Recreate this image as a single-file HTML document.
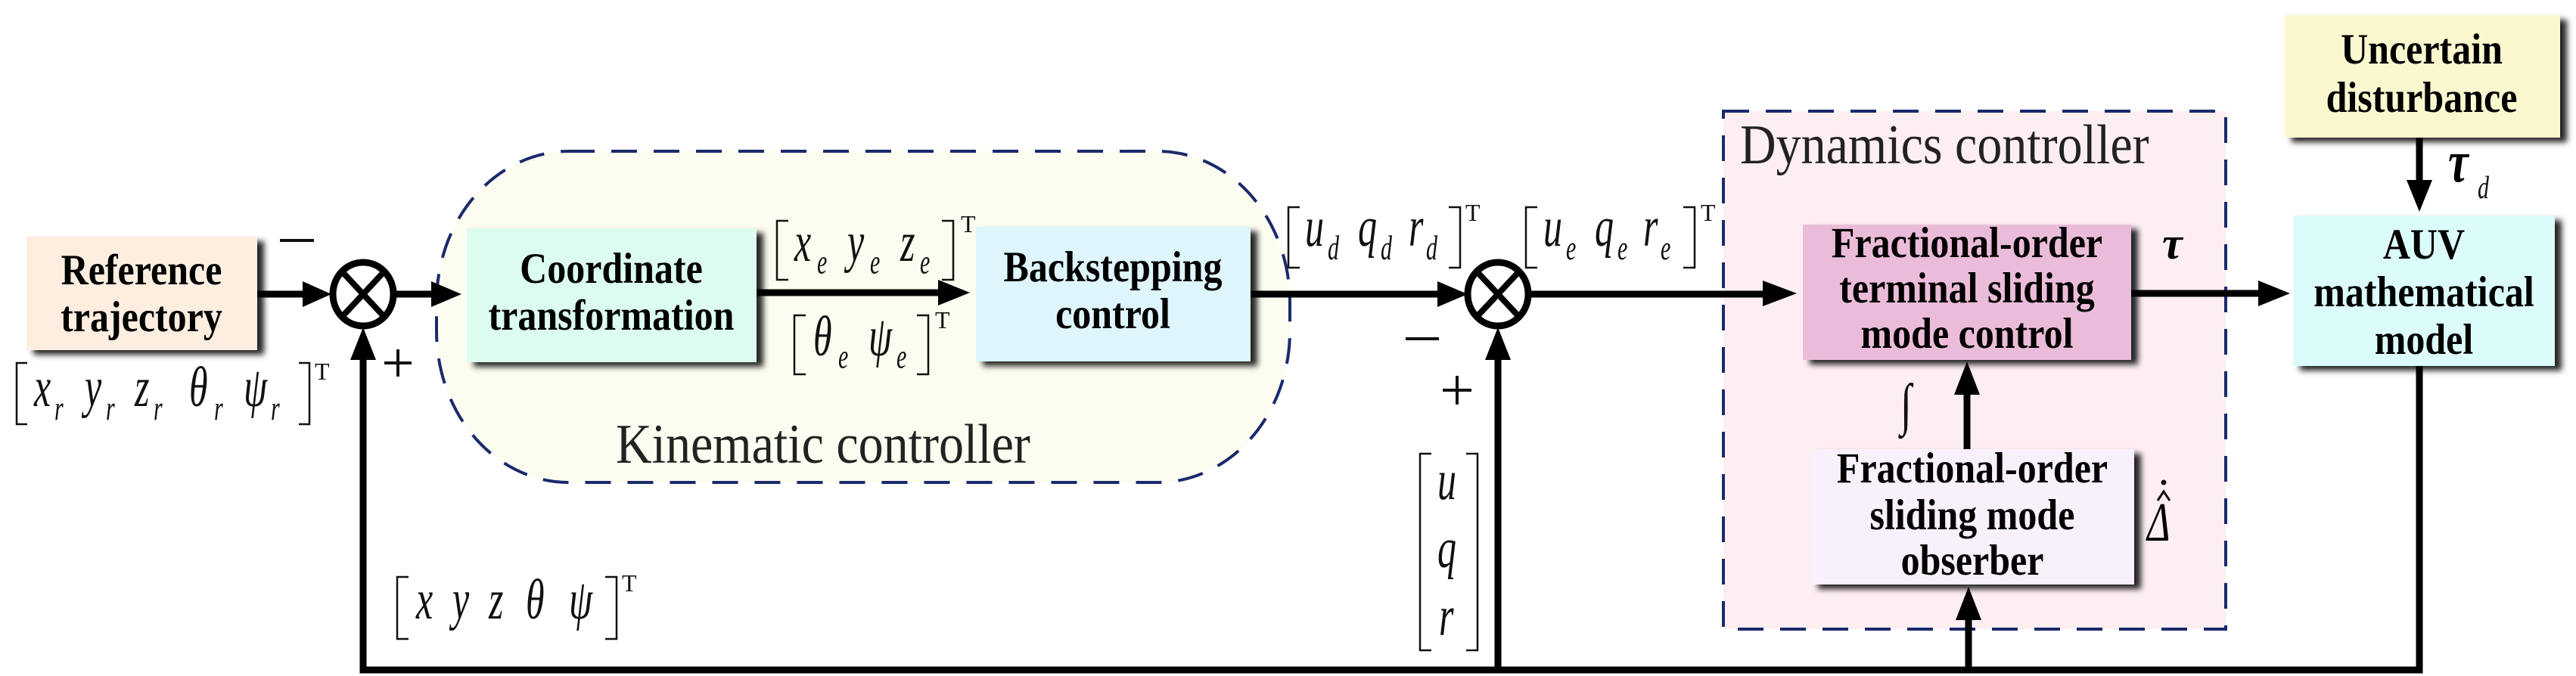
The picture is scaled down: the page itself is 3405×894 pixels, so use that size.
<!DOCTYPE html>
<html><head><meta charset="utf-8"><style>
html,body{margin:0;padding:0;background:#fff;}
svg{display:block;}
text{font-family:"Liberation Serif",serif;}
.b{font-weight:bold;font-size:50px;text-anchor:middle;fill:#000;}
.i{font-style:italic;font-size:50px;fill:#111;}
.s{font-style:italic;font-size:30px;fill:#111;}
.t{font-size:32px;fill:#111;}
.br{fill:none;stroke:#111;stroke-width:2.5;}
.ln{stroke:#000;stroke-width:9;fill:none;}
</style></head><body>
<svg width="3405" height="894" viewBox="0 0 3405 894" xmlns="http://www.w3.org/2000/svg">
<defs>
<filter id="sh" x="-10%" y="-10%" width="130%" height="130%">
<feDropShadow dx="9" dy="6" stdDeviation="4" flood-color="#000" flood-opacity="0.85"/>
</filter>
</defs>

<rect x="577" y="200" width="1128" height="438" rx="175" ry="200" fill="#fdfcf0" stroke="#1a2a6c" stroke-width="4" stroke-dasharray="34,22"/>
<g transform="translate(0,612) scale(1,1.12) translate(0,-612)"><text x="814" y="612" style="font-size:66px;fill:#222;">Kinematic controller</text></g>

<rect x="2278" y="147" width="664" height="685" fill="#fdeef2" stroke="#1a2a6c" stroke-width="4" stroke-dasharray="34,22"/>
<g transform="translate(0,216) scale(1,1.12) translate(0,-216)"><text x="2300" y="216" style="font-size:66px;fill:#222;">Dynamics controller</text></g>

<rect x="35" y="313" width="305" height="150" fill="#fdeee0" filter="url(#sh)"/>
<rect x="617" y="302" width="383" height="177" fill="#dcfcef" filter="url(#sh)"/>
<rect x="1290" y="300" width="363" height="178" fill="#ddf5fb" filter="url(#sh)"/>
<rect x="2383" y="297" width="434" height="179" fill="#ebbcd9" filter="url(#sh)"/>
<rect x="2394" y="594" width="427" height="179" fill="#f8f0fa" filter="url(#sh)"/>
<rect x="3020" y="20" width="364" height="162" fill="#fbf8d0" filter="url(#sh)"/>
<rect x="3031" y="285" width="346" height="199" fill="#dcfcfc" filter="url(#sh)"/>

<g transform="translate(0,376) scale(1,1.15) translate(0,-376)"><text class="b" x="187" y="376">Reference</text></g>
<g transform="translate(0,438) scale(1,1.15) translate(0,-438)"><text class="b" x="187" y="438">trajectory</text></g>
<g transform="translate(0,374) scale(1,1.15) translate(0,-374)"><text class="b" x="808" y="374">Coordinate</text></g>
<g transform="translate(0,436) scale(1,1.15) translate(0,-436)"><text class="b" x="808" y="436">transformation</text></g>
<g transform="translate(0,372) scale(1,1.15) translate(0,-372)"><text class="b" x="1471" y="372">Backstepping</text></g>
<g transform="translate(0,434) scale(1,1.15) translate(0,-434)"><text class="b" x="1471" y="434">control</text></g>
<g transform="translate(0,340) scale(1,1.15) translate(0,-340)"><text class="b" x="2600" y="340">Fractional-order</text></g>
<g transform="translate(0,400) scale(1,1.15) translate(0,-400)"><text class="b" x="2600" y="400">terminal sliding</text></g>
<g transform="translate(0,460) scale(1,1.15) translate(0,-460)"><text class="b" x="2600" y="460">mode control</text></g>
<g transform="translate(0,638) scale(1,1.15) translate(0,-638)"><text class="b" x="2607" y="638">Fractional-order</text></g>
<g transform="translate(0,700) scale(1,1.15) translate(0,-700)"><text class="b" x="2607" y="700">sliding mode</text></g>
<g transform="translate(0,760) scale(1,1.15) translate(0,-760)"><text class="b" x="2607" y="760">obserber</text></g>
<g transform="translate(0,84) scale(1,1.15) translate(0,-84)"><text class="b" x="3201" y="84">Uncertain</text></g>
<g transform="translate(0,148) scale(1,1.15) translate(0,-148)"><text class="b" x="3201" y="148">disturbance</text></g>
<g transform="translate(0,342) scale(1,1.15) translate(0,-342)"><text class="b" x="3204" y="342">AUV</text></g>
<g transform="translate(0,405) scale(1,1.15) translate(0,-405)"><text class="b" x="3204" y="405">mathematical</text></g>
<g transform="translate(0,468) scale(1,1.15) translate(0,-468)"><text class="b" x="3204" y="468">model</text></g>

<g stroke="#000" stroke-width="9" fill="#fff">
<ellipse cx="480" cy="389" rx="40" ry="42"/>
<ellipse cx="1980" cy="389" rx="40" ry="42"/>
</g>
<g stroke="#000" stroke-width="8">
<line x1="452" y1="359" x2="508" y2="419"/><line x1="508" y1="359" x2="452" y2="419"/>
<line x1="1952" y1="359" x2="2008" y2="419"/><line x1="2008" y1="359" x2="1952" y2="419"/>
</g>

<g class="ln">
<line x1="340" y1="389" x2="410" y2="389"/>
<line x1="520" y1="389" x2="580" y2="389"/>
<line x1="1000" y1="387" x2="1240" y2="387"/>
<line x1="1653" y1="389" x2="1910" y2="389"/>
<line x1="2020" y1="389" x2="2330" y2="389"/>
<line x1="2817" y1="388" x2="2985" y2="388"/>
<line x1="3198" y1="182" x2="3198" y2="240"/>
<polyline points="3198,484 3198,886 480,886 480,470"/>
<line x1="1980" y1="886" x2="1980" y2="470"/>
<line x1="2602" y1="886" x2="2602" y2="820"/>
<line x1="2600" y1="594" x2="2600" y2="520"/>
</g>
<g fill="#000">
<polygon points="400,372 438,389 400,406"/>
<polygon points="570,372 610,389 570,406"/>
<polygon points="1240,370 1282,387 1240,404"/>
<polygon points="1900,372 1940,389 1900,406"/>
<polygon points="2330,371 2375,388 2330,405"/>
<polygon points="2985,371 3027,388 2985,405"/>
<polygon points="3181,238 3198,280 3215,238"/>
<polygon points="463,476 480,433 497,476"/>
<polygon points="1963,476 1980,433 1997,476"/>
<polygon points="2585,820 2602,776 2619,820"/>
<polygon points="2583,522 2600,478 2617,522"/>
</g>

<g stroke="#111" stroke-width="4">
<line x1="370" y1="318" x2="415" y2="318"/>
<line x1="508" y1="480" x2="544" y2="480"/><line x1="526" y1="462" x2="526" y2="498"/>
<line x1="1858" y1="448" x2="1902" y2="448"/>
<line x1="1907" y1="516" x2="1945" y2="516"/><line x1="1926" y1="497" x2="1926" y2="535"/>
</g>

<!-- [xr yr zr θr ψr]^T -->
<path class="br" d="M36,480 H22 V561 H36 M395,480 H409 V561 H395"/>
<g transform="translate(0,537) scale(1,1.5) translate(0,-537)">
<text class="i" x="45" y="537">x</text><text class="s" x="72" y="549">r</text>
<text class="i" x="112" y="537">y</text><text class="s" x="140" y="549">r</text>
<text class="i" x="178" y="537">z</text><text class="s" x="203" y="549">r</text>
<text class="i" x="250" y="537">θ</text><text class="s" x="283" y="549">r</text>
<text class="i" x="322" y="537">ψ</text><text class="s" x="358" y="549">r</text>
</g>
<text class="t" x="416" y="502">T</text>

<!-- [xe ye ze]^T -->
<path class="br" d="M1042,292 H1027 V370 H1042 M1245,292 H1260 V370 H1245"/>
<g transform="translate(0,345) scale(1,1.5) translate(0,-345)">
<text class="i" x="1050" y="345">x</text><text class="s" x="1080" y="356">e</text>
<text class="i" x="1120" y="345">y</text><text class="s" x="1150" y="356">e</text>
<text class="i" x="1190" y="345">z</text><text class="s" x="1216" y="356">e</text>
</g>
<text class="t" x="1270" y="307">T</text>
<!-- [θe ψe]^T -->
<path class="br" d="M1065,417 H1050 V495 H1065 M1212,417 H1227 V495 H1212"/>
<g transform="translate(0,470) scale(1,1.5) translate(0,-470)">
<text class="i" x="1075" y="470">θ</text><text class="s" x="1108" y="481">e</text>
<text class="i" x="1148" y="470">ψ</text><text class="s" x="1185" y="481">e</text>
</g>
<text class="t" x="1236" y="434">T</text>

<!-- [ud qd rd]^T -->
<path class="br" d="M1718,274 H1703 V354 H1718 M1915,274 H1930 V354 H1915"/>
<g transform="translate(0,325) scale(1,1.5) translate(0,-325)">
<text class="i" x="1725" y="325">u</text><text class="s" x="1755" y="337">d</text>
<text class="i" x="1795" y="325">q</text><text class="s" x="1825" y="337">d</text>
<text class="i" x="1862" y="325">r</text><text class="s" x="1885" y="337">d</text>
</g>
<text class="t" x="1937" y="292">T</text>
<!-- [ue qe re]^T -->
<path class="br" d="M2032,274 H2017 V354 H2032 M2225,274 H2240 V354 H2225"/>
<g transform="translate(0,325) scale(1,1.5) translate(0,-325)">
<text class="i" x="2040" y="325">u</text><text class="s" x="2070" y="337">e</text>
<text class="i" x="2108" y="325">q</text><text class="s" x="2138" y="337">e</text>
<text class="i" x="2172" y="325">r</text><text class="s" x="2195" y="337">e</text>
</g>
<text class="t" x="2248" y="292">T</text>

<!-- [u q r] column -->
<path class="br" d="M1892,600 H1877 V860 H1892 M1938,600 H1953 V860 H1938"/>
<g transform="translate(0,660) scale(1,1.5) translate(0,-660)"><text class="i" x="1900" y="660">u</text></g>
<g transform="translate(0,750) scale(1,1.5) translate(0,-750)"><text class="i" x="1900" y="750">q</text></g>
<g transform="translate(0,840) scale(1,1.5) translate(0,-840)"><text class="i" x="1902" y="840">r</text></g>

<!-- [x y z θ ψ]^T -->
<path class="br" d="M540,763 H525 V845 H540 M800,763 H815 V845 H800"/>
<g transform="translate(0,818) scale(1,1.5) translate(0,-818)">
<text class="i" x="550" y="818">x</text>
<text class="i" x="598" y="818">y</text>
<text class="i" x="646" y="818">z</text>
<text class="i" x="695" y="818">θ</text>
<text class="i" x="752" y="818">ψ</text>
</g>
<text class="t" x="822" y="782">T</text>

<g transform="translate(0,560) scale(1,1.4) translate(0,-560)"><text class="i" x="2512" y="560" style="font-size:54px;">∫</text></g>
<text x="2858" y="342" style="font-size:60px;font-style:italic;font-weight:bold;">τ</text>
<g transform="translate(0,715) scale(1,1.4) translate(0,-715)"><text x="2838" y="715" style="font-size:52px;font-style:italic;">Δ</text></g>
<path d="M2852,662 L2860,650 L2868,662" fill="none" stroke="#111" stroke-width="3"/>
<circle cx="2860" cy="638" r="3.5" fill="#111"/>
<g transform="translate(0,240) scale(1,1.3) translate(0,-240)"><text x="3236" y="240" style="font-size:60px;font-style:italic;font-weight:bold;">τ</text></g>
<g transform="translate(0,262) scale(1,1.4) translate(0,-262)"><text class="s" x="3275" y="262">d</text></g>
</svg>
</body></html>
